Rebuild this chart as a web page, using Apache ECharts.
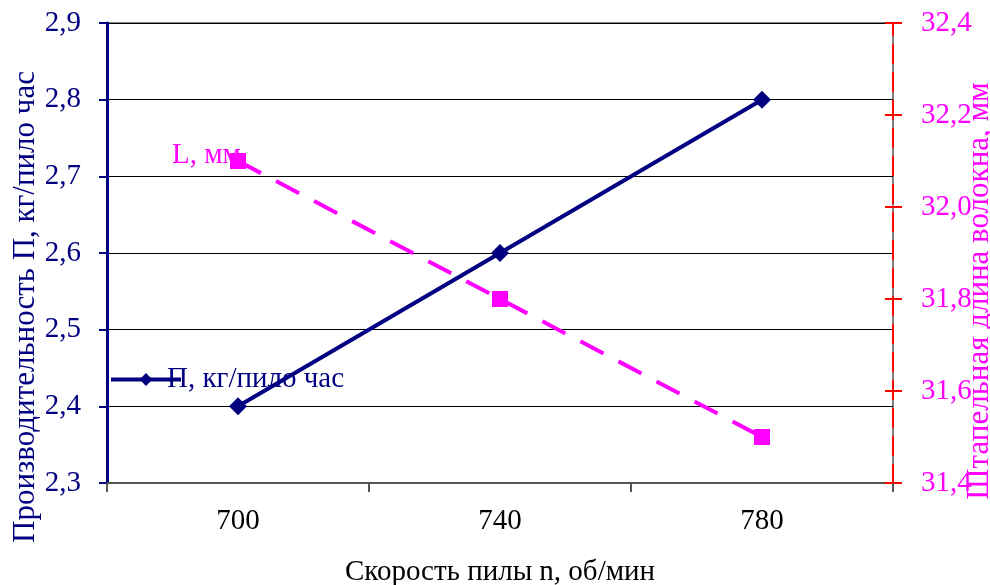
<!DOCTYPE html>
<html>
<head>
<meta charset="utf-8">
<script src="https://cdn.jsdelivr.net/npm/echarts@6/dist/echarts.min.js"></script>
<style>
html,body{margin:0;padding:0;background:#fff;}
#chart{width:990px;height:585px;}
</style>
</head>
<body>
<div id="chart"></div>
<script>
// Saw speed (rpm) categories
const speeds = ['700', '740', '780'];
// Productivity, kg per saw-hour
const productivity = [2.4, 2.6, 2.8];
// Staple fibre length, mm
const stapleLength = [32.1, 31.8, 31.5];

const seriesNames = ['П, кг/пило час', 'L, мм'];
const FONT = 'Liberation Serif';
const NAVY = '#000080';
const MAGENTA = '#FF00FF';

const fmt = v => v.toFixed(1).replace('.', ',');

const chart = echarts.init(document.getElementById('chart'), null, { renderer: 'canvas' });

chart.setOption({
  animation: false,
  backgroundColor: '#ffffff',
  grid: {
    left: 107, right: 97, top: 23, bottom: 102,
    containLabel: false,
    outerBoundsMode: 'none',
    show: true, borderColor: '#808080', borderWidth: 2, backgroundColor: 'transparent'
  },
  legend: [
    {
      data: [seriesNames[0]],
      left: 104, top: 360,
      itemWidth: 70, itemHeight: 16, itemGap: 0,
      lineStyle: { width: 4 },
      textStyle: { fontFamily: FONT, fontSize: 29, color: NAVY, padding: [0, 0, 0, -19] }
    },
    {
      data: [{ name: seriesNames[1], icon: 'rect', itemStyle: { opacity: 0 } }],
      left: 161, top: 136,
      itemWidth: 1, itemHeight: 1,
      textStyle: { fontFamily: FONT, fontSize: 29, color: MAGENTA }
    }
  ],
  xAxis: {
    type: 'category',
    data: speeds,
    boundaryGap: true,
    name: 'Скорость пилы n, об/мин',
    nameLocation: 'middle',
    nameGap: 75,
    nameMoveOverlap: false,
    nameTextStyle: { fontFamily: FONT, fontSize: 29, color: '#000' },
    axisLine: { lineStyle: { color: '#555555', width: 2 } },
    axisTick: { show: true, length: 9, alignWithLabel: false, lineStyle: { color: '#555555', width: 2 } },
    axisLabel: { fontFamily: FONT, fontSize: 29, color: '#000', margin: 24 },
    splitLine: { show: false }
  },
  yAxis: [
    {
      type: 'value',
      position: 'left',
      min: 2.3, max: 2.9, interval: 0.1,
      name: 'Производительность П, кг/пило час',
      nameLocation: 'middle',
      nameGap: 66,
      nameMoveOverlap: false,
      nameTextStyle: { fontFamily: FONT, fontSize: 31, color: NAVY, padding: [0, 108, 0, 0] },
      axisLine: { show: true, lineStyle: { color: NAVY, width: 3 } },
      axisTick: { show: true, length: 8, lineStyle: { color: NAVY, width: 2 } },
      axisLabel: { fontFamily: FONT, fontSize: 29, color: NAVY, margin: 26, formatter: fmt },
      splitLine: { show: true, lineStyle: { color: '#000', width: 1 } }
    },
    {
      type: 'value',
      position: 'right',
      min: 31.4, max: 32.4, interval: 0.2,
      name: 'Штапельная длина волокна, мм',
      nameLocation: 'middle',
      nameGap: 71,
      nameRotate: 90,
      nameMoveOverlap: false,
      nameTextStyle: { fontFamily: FONT, fontSize: 31, color: MAGENTA, padding: [0, 76, 0, 0] },
      axisLine: { show: true, lineStyle: { color: '#FF0000', width: 2, type: [18, 10] } },
      axisTick: { show: true, length: 9, lineStyle: { color: '#FF0000', width: 2 } },
      axisLabel: { fontFamily: FONT, fontSize: 29, color: MAGENTA, margin: 28, formatter: fmt },
      splitLine: { show: false }
    },
    {
      // inner half of the right-axis cross ticks
      type: 'value',
      position: 'right',
      min: 31.4, max: 32.4, interval: 0.2,
      axisLine: { show: false },
      axisTick: { show: true, inside: true, length: 8, lineStyle: { color: '#FF0000', width: 2 } },
      axisLabel: { show: false },
      splitLine: { show: false }
    }
  ],
  series: [
    {
      name: seriesNames[0],
      type: 'line',
      yAxisIndex: 0,
      data: productivity,
      symbol: 'diamond',
      symbolSize: 18,
      lineStyle: { color: NAVY, width: 4 },
      itemStyle: { color: NAVY },
      z: 3
    },
    {
      name: seriesNames[1],
      type: 'line',
      yAxisIndex: 1,
      data: stapleLength,
      symbol: 'rect',
      symbolSize: 16,
      lineStyle: { color: MAGENTA, width: 4, type: [26, 17] },
      itemStyle: { color: MAGENTA },
      z: 4
    }
  ]
});
</script>
</body>
</html>
